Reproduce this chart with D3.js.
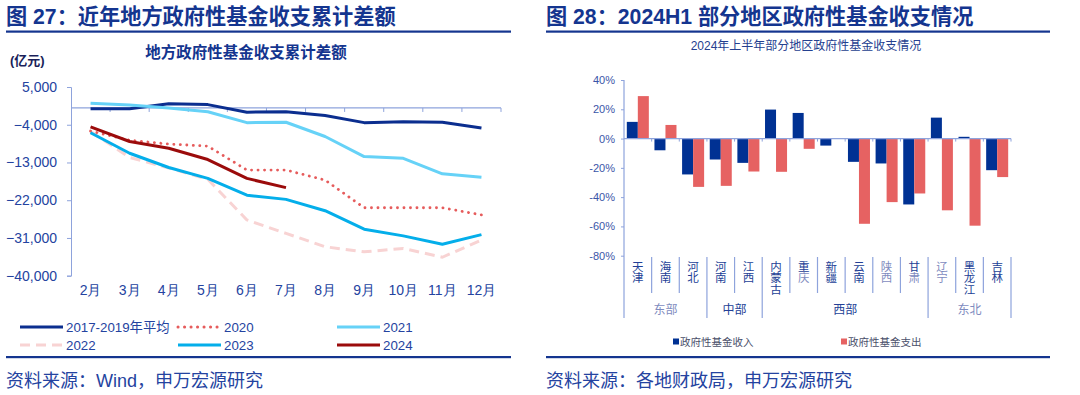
<!DOCTYPE html>
<html>
<head>
<meta charset="utf-8">
<script src="https://cdn.jsdelivr.net/npm/d3@7"></script>
<style>
  body { margin: 0; background: #fff; }
  svg { display: block; font-family: "Liberation Sans", "Noto Sans CJK SC", sans-serif; }
</style>
</head>
<body>
<div id="chart"></div>
<script>
// left chart data (亿元)
const months = ['2月', '3月', '4月', '5月', '6月', '7月', '8月', '9月', '10月', '11月', '12月'];
const avg1719 = [-200, -200, 1000, 800, -1000, -900, -1800, -3500, -3300, -3400, -4800];
const s2020 = [-5500, -7700, -8600, -9100, -14800, -14800, -17200, -23800, -23800, -23800, -25500];
const s2021 = [1100, 700, 0, -900, -3500, -3400, -6800, -11600, -12000, -15700, -16500];
const s2022 = [-5600, -11800, -14300, -17000, -26700, -29900, -33100, -34300, -33500, -35600, -31500];
const s2023 = [-5900, -10800, -14200, -16800, -20800, -21800, -24500, -28900, -30500, -32500, -30200];
const s2024 = [-4500, -8000, -9600, -12300, -16800, -19000];
const leftTicks = [5000, -4000, -13000, -22000, -31000, -40000];

// right chart data (%)
const regions = ['天津', '海南', '河北', '河南', '江西', '内蒙古', '重庆', '新疆', '云南', '陕西', '甘肃', '辽宁', '黑龙江', '吉林'];
const groups = ['东部', '东部', '东部', '中部', '中部', '西部', '西部', '西部', '西部', '西部', '西部', '东北', '东北', '东北'];
const income = [11.4, -8, -24.5, -14.3, -16.6, 19.8, 17.5, -4.8, -15.9, -17, -45, 14.3, 1.2, -21.6];
const spending = [29, 9.3, -33, -32.3, -22.5, -22.7, -7, 0, -58.2, -43.4, -37.5, -49, -59.5, -26.3];
const rightTicks = [40, 20, 0, -20, -40, -60, -80];

const navy = '#14358f';
const textBlue = '#2443a0';

const svg = d3.select('#chart').append('svg')
    .attr('width', 1080)
    .attr('height', 395);

// headings, rules, sources
function frame(x0, x1, title, source) {
    svg.append('text').attr('x', x0).attr('y', 24)
        .attr('font-size', 21.2).attr('font-weight', 'bold').attr('fill', navy)
        .text(title);
    svg.append('rect').attr('x', x0).attr('y', 30.5).attr('width', x1 - x0).attr('height', 2.2).attr('fill', navy);
    svg.append('rect').attr('x', x0).attr('y', 356).attr('width', x1 - x0).attr('height', 2.2).attr('fill', navy);
    svg.append('text').attr('x', x0).attr('y', 387)
        .attr('font-size', 18).attr('fill', textBlue)
        .text(source);
}
frame(6, 511, '图 27：近年地方政府性基金收支累计差额', '资料来源：Wind，申万宏源研究');
frame(546, 1050, '图 28：2024H1 部分地区政府性基金收支情况', '资料来源：各地财政局，申万宏源研究');

// ---------- left: line chart ----------
svg.append('text').attr('x', 246).attr('y', 58).attr('text-anchor', 'middle')
    .attr('font-size', 15.5).attr('font-weight', 'bold').attr('fill', navy)
    .text('地方政府性基金收支累计差额');
svg.append('text').attr('x', 10).attr('y', 65)
    .attr('font-size', 13).attr('font-weight', 'bold').attr('fill', '#1a1f5a')
    .text('(亿元)');

const x = d3.scaleBand().domain(months).range([71, 501]);
const y = d3.scaleLinear().domain([-40000, 5000]).range([275.7, 87]);

svg.append('g')
    .attr('transform', 'translate(71,0)')
    .call(d3.axisLeft(y).tickValues(leftTicks).tickSize(4).tickFormat(d3.format(',')))
    .call(g => g.select('.domain').attr('stroke', '#8ea3dc'))
    .call(g => g.selectAll('.tick line').attr('stroke', '#8ea3dc'))
    .call(g => g.selectAll('text').attr('font-size', 14).attr('fill', textBlue).attr('font-family', 'Liberation Sans').attr('x', -14));

// zero line with band-boundary ticks
const zg = svg.append('g').attr('transform', `translate(0,${y(0)})`);
zg.append('line').attr('x1', x.range()[0]).attr('x2', x.range()[1]).attr('stroke', '#8ea3dc').attr('stroke-width', 1.2);
zg.selectAll('.zt').data(months.map(m => x(m) + x.bandwidth())).join('line')
    .attr('x1', d => d).attr('x2', d => d).attr('y1', 0).attr('y2', 4)
    .attr('stroke', '#8ea3dc');

svg.append('g')
    .attr('transform', 'translate(0,282)')
    .call(d3.axisBottom(x).tickSize(0).tickPadding(0))
    .call(g => g.select('.domain').remove())
    .call(g => g.selectAll('text').attr('font-size', 14).attr('fill', textBlue).attr('dy', '0.9em'));

const line = d3.line().x((d, i) => x(months[i]) + x.bandwidth() / 2).y(d => y(d));

const series = [
    { name: '2022', values: s2022, color: '#f8d3d3', dash: '10,6', cap: 'butt' },
    { name: '2017-2019年平均', values: avg1719, color: '#0b2e8f', dash: null, cap: 'butt' },
    { name: '2021', values: s2021, color: '#66d2f7', dash: null, cap: 'butt' },
    { name: '2020', values: s2020, color: '#e65c5c', dash: '0.1,6.4', cap: 'round' },
    { name: '2023', values: s2023, color: '#04aeea', dash: null, cap: 'butt' },
    { name: '2024', values: s2024, color: '#9b0b0b', dash: null, cap: 'butt' }
];

series.forEach(s => {
    svg.append('path')
        .attr('d', line(s.values))
        .attr('fill', 'none')
        .attr('stroke', s.color)
        .attr('stroke-width', s.name === '2020' ? 2.8 : 3)
        .attr('stroke-linecap', s.cap)
        .attr('stroke-linejoin', 'round')
        .attr('stroke-dasharray', s.dash);
});

// legend
const legendOrder = ['2017-2019年平均', '2020', '2021', '2022', '2023', '2024'];
const lg = svg.append('g');
legendOrder.forEach((name, i) => {
    const s = series.find(d => d.name === name);
    const lx = [20, 178, 337][i % 3];
    const ly = i < 3 ? 327 : 345;
    lg.append('line').attr('x1', lx).attr('x2', lx + 43).attr('y1', ly).attr('y2', ly)
        .attr('stroke', s.color).attr('stroke-width', 3)
        .attr('stroke-linecap', s.cap).attr('stroke-dasharray', s.dash);
    lg.append('text').attr('x', lx + 46).attr('y', ly + 5)
        .attr('font-size', 13.3).attr('fill', textBlue).text(name);
});

// ---------- right: grouped bars ----------
svg.append('text').attr('x', 806).attr('y', 50).attr('text-anchor', 'middle')
    .attr('font-size', 12).attr('fill', '#24408f')
    .text('2024年上半年部分地区政府性基金收支情况');

const xr = d3.scaleBand().domain(regions).range([624, 1011]);
const xs = d3.scaleBand().domain(['income', 'spending']).range([0, xr.bandwidth()]).paddingOuter(0.255);
const yr = d3.scaleLinear().domain([-80, 40]).range([255.7, 80]);

svg.append('g')
    .attr('transform', 'translate(624,0)')
    .call(d3.axisLeft(yr).tickValues(rightTicks).tickSize(3).tickFormat(d => d + '%'))
    .call(g => g.select('.domain').remove())
    .call(g => g.selectAll('.tick line').attr('stroke', '#8ea3dc'))
    .call(g => g.selectAll('text').attr('font-size', 11).attr('fill', '#3a55a8').attr('x', -9));

const barData = regions.map((r, i) => [
    { region: r, key: 'income', value: income[i] },
    { region: r, key: 'spending', value: spending[i] }
]).flat();

svg.append('g').selectAll('rect').data(barData).join('rect')
    .attr('x', d => xr(d.region) + xs(d.key))
    .attr('width', xs.bandwidth())
    .attr('y', d => yr(Math.max(0, d.value)))
    .attr('height', d => Math.abs(yr(d.value) - yr(0)))
    .attr('fill', d => d.key === 'income' ? '#003193' : '#e66262');

// zero line + ticks
svg.append('line').attr('x1', 624).attr('x2', 1011).attr('y1', yr(0)).attr('y2', yr(0))
    .attr('stroke', '#8ea3dc').attr('stroke-width', 1.2);
svg.append('g').selectAll('line').data(regions.map(r => xr(r) + xr.bandwidth())).join('line')
    .attr('x1', d => d).attr('x2', d => d).attr('y1', yr(0)).attr('y2', yr(0) + 3)
    .attr('stroke', '#8ea3dc');

// y axis line extends into category area
svg.append('line').attr('x1', 624).attr('x2', 624).attr('y1', yr(40)).attr('y2', 318)
    .attr('stroke', '#8ea3dc').attr('stroke-width', 1.2);

// category separators
const sepG = svg.append('g');
regions.forEach((r, i) => {
    const bx = xr(r) + xr.bandwidth();
    const groupEnd = i === regions.length - 1 || groups[i] !== groups[i + 1];
    sepG.append('line').attr('x1', bx).attr('x2', bx).attr('y1', 257).attr('y2', groupEnd ? 318 : 293)
        .attr('stroke', '#8ea3dc').attr('stroke-width', 1.2);
});

// vertical category labels
const lightCats = ['陕西', '辽宁'];
regions.forEach(r => {
    const cx = xr(r) + xr.bandwidth() / 2;
    r.split('').forEach((ch, j) => {
        svg.append('text').attr('x', cx).attr('y', 270.5 + j * 11.5)
            .attr('text-anchor', 'middle').attr('font-size', 11.5)
            .attr('fill', lightCats.includes(r) || (j > 0 && ['重庆', '甘肃'].includes(r)) ? '#7f8cc0' : '#233f96')
            .text(ch);
    });
});

// group labels
const groupNames = Array.from(new Set(groups));
groupNames.forEach(g => {
    const members = regions.filter((r, i) => groups[i] === g);
    const gx0 = xr(members[0]);
    const gx1 = xr(members[members.length - 1]) + xr.bandwidth();
    svg.append('text').attr('x', (gx0 + gx1) / 2).attr('y', 313.5)
        .attr('text-anchor', 'middle').attr('font-size', 12)
        .attr('fill', (g === '东部' || g === '东北') ? '#7f8cc0' : '#233f96')
        .text(g);
});

// right legend
[{ label: '政府性基金收入', color: '#003193', lx: 673 }, { label: '政府性基金支出', color: '#e66262', lx: 841 }].forEach(d => {
    svg.append('rect').attr('x', d.lx).attr('y', 338.5).attr('width', 6).attr('height', 6).attr('fill', d.color);
    svg.append('text').attr('x', d.lx + 7).attr('y', 346)
        .attr('font-size', 10.5).attr('fill', '#4a4f6a').text(d.label);
});
</script>
</body>
</html>
